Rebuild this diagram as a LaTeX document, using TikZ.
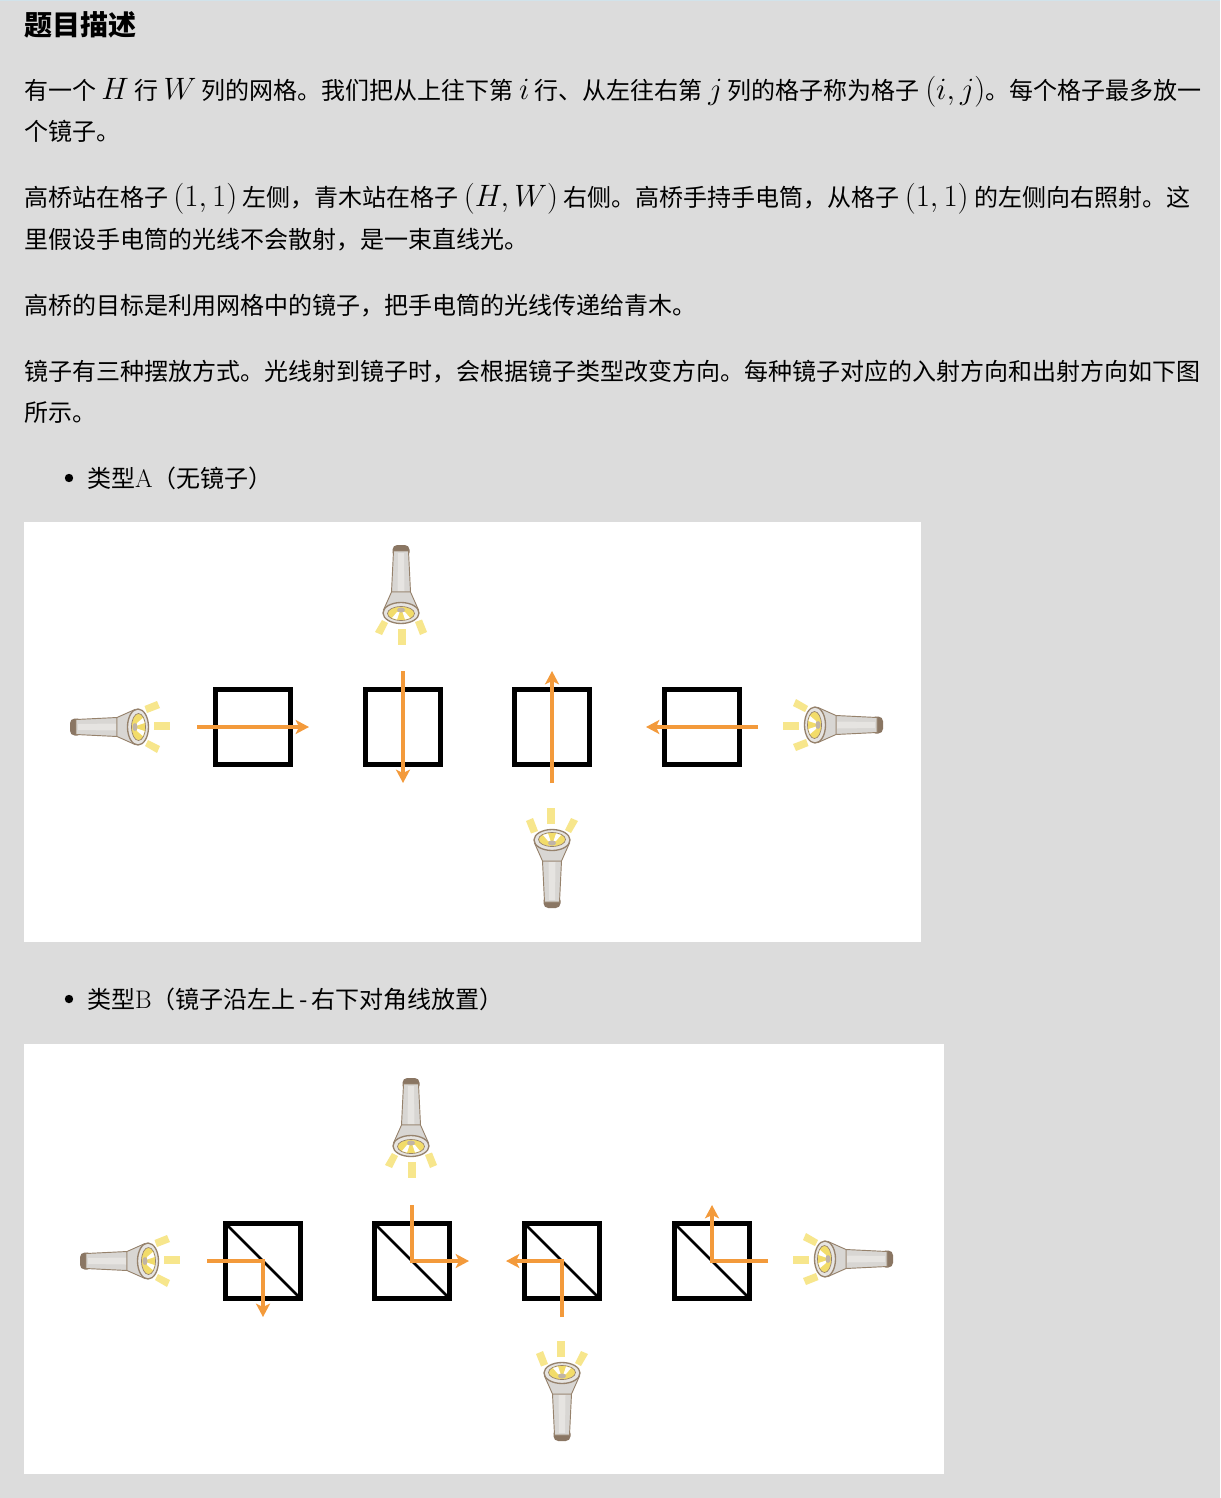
\RequirePackage{fix-cm}
\documentclass[tikz,border=0pt]{standalone}
\usepackage{fontspec}
\newfontfamily\cjk{Noto Sans CJK SC}
\usetikzlibrary{arrows.meta}
\definecolor{pagebg}{HTML}{DCDCDC}
\definecolor{raycol}{HTML}{F39A3B}
\definecolor{flbrown}{HTML}{96826C}
\definecolor{fldark}{HTML}{8A7663}
\definecolor{flgray}{HTML}{D8D6D3}
\definecolor{flgrayb}{HTML}{E6E4E1}
\definecolor{flyellow}{HTML}{F7E68C}
\definecolor{flyellowb}{HTML}{F2DC6A}
\newcommand{\mth}[1]{{\fontsize{23.2}{26}\selectfont$#1$}}
\tikzset{
  x=0.75pt,y=-0.75pt,
  txt/.style={anchor=base west,inner sep=0pt,outer sep=0pt,text=black,font=\fontsize{18}{22}\selectfont\cjk},
  headtxt/.style={anchor=base west,inner sep=0pt,outer sep=0pt,text=black,font=\fontsize{21}{25}\selectfont\cjk\bfseries},
  cell/.style={draw=black,line width=3.5pt,minimum size=56pt,inner sep=0pt,outer sep=0pt},
  lightray/.style={draw=raycol,line width=2.5pt,-{Stealth[length=10pt,width=10.5pt,inset=2.5pt]}},
  diag/.style={draw=black,line width=1.9pt},
  panel/.style={fill=white,draw=none},
  flash/.pic={
    % beams
    \fill[flyellow] (-3,16) -- (5,16) -- (5,32) -- (-3,32) -- cycle;
    \fill[flyellow] (-19,7) -- (-13,10) -- (-19,22) -- (-26,19) -- cycle;
    \fill[flyellow] (14,9) -- (21,6.5) -- (26,19) -- (19,22) -- cycle;
    % tail and handle
    \fill[fldark,rounded corners=3.5pt] (-8.5,-68) -- (8.5,-68) -- (8.5,-56) -- (-8.5,-56) -- cycle;
    \filldraw[draw=flbrown,fill=flgray,line width=.7pt] (-7.5,-62) -- (7.5,-62) -- (9.5,-21) -- (-9.5,-21) -- cycle;
    \fill[flgrayb] (-3,-60) -- (3,-60) -- (3.5,-22) -- (-3.5,-22) -- cycle;
    % flared collar
    \filldraw[draw=flbrown,fill=flgray,line width=.7pt] (-9.5,-21) -- (9.5,-21) -- (17.5,-3) -- (-17.5,-3) -- cycle;
    % lens
    \filldraw[draw=flbrown,fill=flgrayb,line width=1pt] (0,0) ellipse [x radius=18,y radius=10.5];
    \filldraw[draw=flbrown,fill=flyellowb,line width=.5pt] (0,0.5) ellipse [x radius=13.5,y radius=7];
    \fill[white] (-4,-1) -- (-1.5,-1) -- (-4,6.5) -- (-9,5) -- cycle;
    \fill[white] (4,-1) -- (1.5,-1) -- (4,6.5) -- (9,5) -- cycle;
    \fill[flbrown!60] (0,-3) ellipse [x radius=4,y radius=2.5];
  }
}
\begin{document}
\begin{tikzpicture}
\useasboundingbox (0,0) rectangle (1220,1498);
\fill[pagebg] (0,0) rectangle (1220,1498);
\fill[white!70!cyan!40!pagebg] (0,0) rectangle (1220,1.5);

% text
\node[headtxt] (t0) at (24,36) {题目描述};
\node[txt] (t1) at (24,100) {有一个 \mth{H} 行 \mth{W} 列的网格。我们把从上往下第 \mth{i} 行、从左往右第 \mth{j} 列的格子称为格子 \mth{(i,j)}。每个格子最多放一};
\node[txt] (t2) at (24,141) {个镜子。};
\node[txt] (t3) at (24,207) {高桥站在格子 \mth{(1,1)} 左侧，青木站在格子 \mth{(H,W)} 右侧。高桥手持手电筒，从格子 \mth{(1,1)} 的左侧向右照射。这};
\node[txt] (t4) at (24,248) {里假设手电筒的光线不会散射，是一束直线光。};
\node[txt] (t5) at (24,314) {高桥的目标是利用网格中的镜子，把手电筒的光线传递给青木。};
\node[txt] (t6) at (24,380) {镜子有三种摆放方式。光线射到镜子时，会根据镜子类型改变方向。每种镜子对应的入射方向和出射方向如下图};
\node[txt] (t7) at (24,421) {所示。};
\fill[black] (69,478) circle [radius=4.2];
\node[txt] (t8) at (87,487) {类型{\rmfamily\fontsize{19}{22}\selectfont A}（无镜子）};
\fill[black] (69,999) circle [radius=4.2];
\node[txt] (t9) at (87,1008) {类型{\rmfamily\fontsize{19}{22}\selectfont B}（镜子沿左上\kern3pt-\kern3pt 右下对角线放置）};

% panel A
\fill[panel] (24,522) rectangle (921,942);
\pic at (401,613) {flash};
\pic[rotate=90] at (138,727) {flash};
\pic[rotate=-90] at (815,725) {flash};
\pic[rotate=180] at (552,840) {flash};
\node[cell] (a1) at (253,727) {};
\node[cell] (a2) at (403,727) {};
\node[cell] (a3) at (552,727) {};
\node[cell] (a4) at (702,727) {};
\coordinate (a1s) at (197,727); \coordinate (a1e) at (309,727);
\coordinate (a2s) at (403,671); \coordinate (a2e) at (403,783);
\coordinate (a3s) at (552,783); \coordinate (a3e) at (552,671);
\coordinate (a4s) at (758,727); \coordinate (a4e) at (646,727);
\draw[lightray] (a1s) -- (a1e);
\draw[lightray] (a2s) -- (a2e);
\draw[lightray] (a3s) -- (a3e);
\draw[lightray] (a4s) -- (a4e);

% panel B
\fill[panel] (24,1044) rectangle (944,1474);
\pic at (411,1146) {flash};
\pic[rotate=90] at (148,1261) {flash};
\pic[rotate=-90] at (825,1259) {flash};
\pic[rotate=180] at (562,1373) {flash};
\node[cell] (b1) at (263,1261) {};
\node[cell] (b2) at (412,1261) {};
\node[cell] (b3) at (562,1261) {};
\node[cell] (b4) at (712,1261) {};
\draw[diag] (b1.north west) -- (b1.south east);
\draw[diag] (b2.north west) -- (b2.south east);
\draw[diag] (b3.north west) -- (b3.south east);
\draw[diag] (b4.north west) -- (b4.south east);
\coordinate (b1s) at (207,1261); \coordinate (b1e) at (263,1317);
\coordinate (b2s) at (412,1205); \coordinate (b2e) at (469,1261);
\coordinate (b3s) at (562,1317); \coordinate (b3e) at (506,1261);
\coordinate (b4s) at (768,1261); \coordinate (b4e) at (712,1205);
\draw[lightray] (b1s) -- (b1.center) -- (b1e);
\draw[lightray] (b2s) -- (b2.center) -- (b2e);
\draw[lightray] (b3s) -- (b3.center) -- (b3e);
\draw[lightray] (b4s) -- (b4.center) -- (b4e);
\end{tikzpicture}
\end{document}
